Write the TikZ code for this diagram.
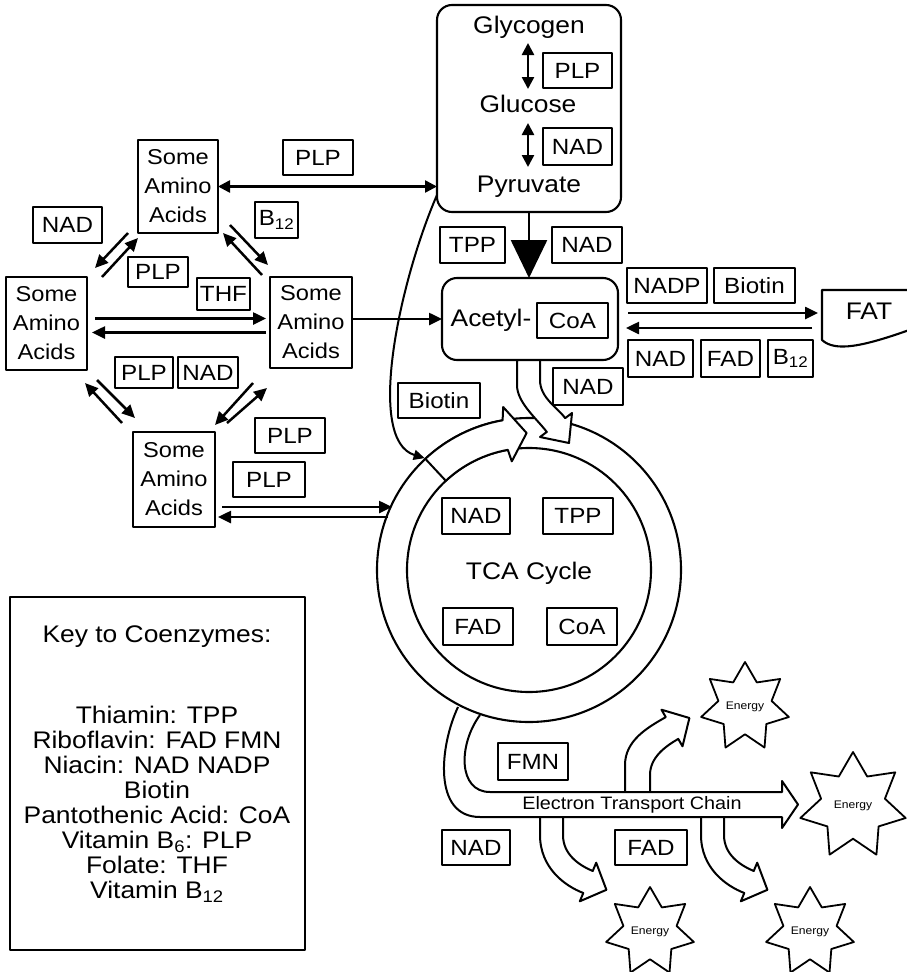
\documentclass[tikz,border=0pt]{standalone}
\usepackage{fontspec}
\setmainfont{Liberation Sans}[FakeStretch=1.1]
\usetikzlibrary{arrows.meta,shapes.geometric,calc}
\newcommand\keyfont{\fontsize{24}{25}\selectfont\lineskiplimit=-30pt\relax}
\begin{document}
\begin{tikzpicture}[x=1pt,y=-1pt,line join=round,
 every node/.style={inner sep=0pt, outer sep=0pt},
 cz/.style={draw, line width=2.1, minimum height=35, font=\fontsize{22}{26}\selectfont},
 aa/.style={draw, line width=2.1, align=center, font=\fontsize{21.5}{29}\selectfont},
 lbl/.style={font=\fontsize{24}{28}\selectfont},
 arr/.style={line width=2.5, -{Triangle[length=13pt,width=12pt]}},
 darr/.style={line width=2.5, {Triangle[length=12pt,width=12pt]}-{Triangle[length=12pt,width=12pt]}},
 band/.style={draw, line width=2, fill=white},
 energy/.style={star, star points=7, star point ratio=1.65, draw, line width=1.8, font=\fontsize{11}{12}\selectfont}
]
\fill[white] (0,0) rectangle (906,972);
\useasboundingbox (0,0) rectangle (906,972);

% --- branches of the electron transport chain (drawn first) ---
\path[band] (625,792) -- (625,765) .. controls (625,740) and (648.4,727.1) .. (665.75,717.1) -- (661.5,709.7) -- (689.4,718) -- (682.5,746.3) -- (678.25,738.9) .. controls (666,746) and (650,757) .. (650,775) -- (650,792);
\path[band] (540,817) -- (540,835) .. controls (540,868) and (565,886) .. (583.3,893) -- (579.8,901.3) -- (606.4,889.8) -- (596.2,862.7) -- (592.7,871) .. controls (579.8,865.5) and (563,855) .. (563,835) -- (563,817);
\path[band] (701,817) -- (701,835) .. controls (701,868) and (726,886) .. (744.3,893) -- (740.8,901.3) -- (767.4,889.8) -- (757.2,862.7) -- (753.7,871) .. controls (740.8,865.5) and (724,855) .. (724,835) -- (724,817);
% --- exit band ---
\path[band] (458,707) .. controls (440,745) and (432,817) .. (480,817) -- (782,817) -- (782,828) -- (798,804.5) -- (782,781) -- (782,792) -- (490,792) .. controls (458,792) and (458,745) .. (480,715);
\node[font=\fontsize{18}{20}\selectfont] (etc) at (632,805) {Electron Transport Chain};

% --- TCA ring ---
\node[circle, draw, line width=2.1, minimum size=304] (ring) at (529,570) {};
\node[circle, draw, line width=2.1, minimum size=244] (ringin) at (529,570) {};
\path[band] ($(ring.center)+(-133:152)$) arc[start angle=-133, end angle=-100, radius=152] -- ($(ring.center)+(-99:165)$) -- ($(ring.center)+(-91:137)$) -- ($(ring.center)+(-99:110)$) -- ($(ring.center)+(-100:122)$) arc[start angle=-100, end angle=-133, radius=122] -- cycle;

% --- glycogen box ---
\node[draw, line width=2.1, rounded corners=15, minimum width=184, minimum height=207] (gbox) at (529,108.5) {};
\node[lbl] (gly) at (529,27) {Glycogen};
\node[lbl] (glu) at (528,104) {Glucose};
\node[lbl] (pyr) at (529,187) {Pyruvate};
\node[cz, minimum width=69] (plpg) at (577.5,70.5) {PLP};
\node[cz, minimum width=69, minimum height=37] (nadg) at (577.5,146.5) {NAD};
\draw[darr] ($(gly.center)+(-1,16)$) -- ($(glu.center)+(0,-15)$);
\draw[darr] ($(glu.center)+(0,19)$) -- ($(pyr.center)+(-1,-20)$);

% --- acetyl-CoA ---
\node[draw, line width=2.1, rounded corners=15, minimum width=176, minimum height=82] (acetyl) at (530,319) {};
\node[lbl] (acet) at (491,320) {Acetyl-};
\node[cz, minimum width=71] (coaa) at (572.5,320.5) {CoA};
\draw[line width=2.6, -{Triangle[length=38pt,width=36pt]}] (gbox.south) -- (gbox.south |- acetyl.north);
\node[cz, minimum width=65, minimum height=36] (tppa) at (472.5,245) {TPP};
\node[cz, minimum width=70, minimum height=36] (nada) at (587,245) {NAD};
\path[band] (517,360) -- (517,385) .. controls (517,402) and (535,417) .. (546.8,431.9) -- (540,437) -- (569,443) -- (572,413) -- (565.2,418.1) .. controls (558,408) and (540,398) .. (540,380) -- (540,360) -- cycle;

% --- fat ---
\node[lbl, minimum width=94, minimum height=50] (fat) at (869,311) {FAT};
\draw[line width=2.1] (912,290) -- (822,290) -- (822,340) .. controls (835,352) and (862,347) .. (912,329);
\node[cz, minimum width=80] (nadp) at (667,285.5) {NADP};
\node[cz, minimum width=81] (biof) at (754.5,285.5) {Biotin};
\node[cz, minimum width=65, minimum height=37] (nadf) at (660.5,358.5) {NAD};
\node[cz, minimum width=59, minimum height=37] (fadf) at (730.5,358.5) {FAD};
\node[cz, minimum width=45, minimum height=37] (b12f) at (790.5,358.5) {B\textsubscript{12}};
\draw[arr] ($(acetyl.east)+(10,-6)$) -- ($(acetyl.east -| fat.west)+(-4,-6)$);
\draw[arr] ($(acetyl.east -| fat.west)+(-10,9)$) -- ($(acetyl.east)+(8,9)$);

% --- amino acids ---
\node[aa, minimum width=80, minimum height=93] (a1) at (178,186.5) {Some\\Amino\\Acids};
\node[aa, minimum width=81, minimum height=93] (a2) at (46.5,323.5) {Some\\Amino\\Acids};
\node[aa, minimum width=82, minimum height=91] (a3) at (311,322.5) {Some\\Amino\\Acids};
\node[aa, minimum width=82, minimum height=95] (a4) at (174,479.5) {Some\\Amino\\Acids};
\node[cz, minimum width=70] (plpt) at (318,157.5) {PLP};
\node[cz, minimum width=69, minimum height=36] (nadl) at (67.5,225) {NAD};
\node[cz, minimum width=43, minimum height=36] (b12m) at (276.5,220) {B\textsubscript{12}};
\node[cz, minimum width=60, minimum height=30] (plpm) at (158,272) {PLP};
\node[cz, minimum width=53, minimum height=32] (thf) at (223.5,294) {THF};
\node[cz, minimum width=58, minimum height=31] (plpb) at (144,372.5) {PLP};
\node[cz, minimum width=60, minimum height=31] (nadb) at (208,372.5) {NAD};
\node[cz, minimum width=70] (plpr1) at (290,435.5) {PLP};
\node[cz, minimum width=72] (plpr2) at (269,479.5) {PLP};

\draw[darr] (a1.east) -- (a1.east -| gbox.west);
\draw[arr] (a3.east |- acetyl.west) -- (acetyl.west);
\draw[arr] ($(a2.east)+(8,-5)$) -- ($(a3.west)+(-4,-4)$);
\draw[arr] ($(a3.west)+(-4,10)$) -- ($(a2.east)+(5,9)$);
\draw[arr] ($(a1.south west)+(-10,0)$) -- ($(a2.north east)+(8,-9)$);
\draw[arr] ($(a2.north east)+(15,0)$) -- ($(a1.south west)+(0,5)$);
\draw[arr] ($(a1.south east)+(12,-8)$) -- ($(a3.north west)+(-2,-12)$);
\draw[arr] ($(a3.north west)+(-8,-2)$) -- ($(a1.south east)+(5,0)$);
\draw[arr] ($(a4.north west)+(-11,-9)$) -- ($(a2.south east)+(-2,13)$);
\draw[arr] ($(a2.south east)+(10,10)$) -- ($(a4.north west)+(2,-14)$);
\draw[arr] ($(a4.north east)+(12,-9)$) -- ($(a3.south west)+(-3,20)$);
\draw[arr] ($(a3.south west)+(-17,15)$) -- ($(a4.north east)+(0,-7)$);
\draw[arr] ($(a4.east)+(7,27.5)$) -- ($(ring.center)+(-137,-63)$);
\draw[arr] ($(ring.center)+(-141,-53)$) -- ($(a4.east)+(3,37.5)$);

% --- biotin route ---
\node[cz, minimum width=82] (biop) at (439,400.5) {Biotin};
\node[cz, minimum width=70, minimum height=37] (nadt) at (588,386.5) {NAD};
\draw[line width=2, -{Triangle[length=11pt,width=10pt]}] ($(gbox.south west)+(0,-17)$) .. controls (400,280) and (365,440) .. ($(ring.center)+(-133:153)$);

% --- inside TCA ---
\node[cz, minimum width=68, minimum height=36] (nadc) at (476,516) {NAD};
\node[cz, minimum width=70, minimum height=36] (tppc) at (578,516) {TPP};
\node[lbl] (tca) at (529,573) {TCA Cycle};
\node[cz, minimum width=70, minimum height=37] (fadc) at (478,626.5) {FAD};
\node[cz, minimum width=70, minimum height=37] (coac) at (582,626.5) {CoA};

% --- ETC labels ---
\node[cz, minimum width=70, minimum height=37] (fmn) at (533,761.5) {FMN};
\node[cz, minimum width=68] (nade) at (476,847.5) {NAD};
\node[cz, minimum width=72] (fade) at (651,847.5) {FAD};

% --- energy stars ---
\node[energy, minimum size=90] (e1) at (745,707) {Energy};
\node[energy, minimum size=108] (e2) at (853,806) {Energy};
\node[energy, minimum size=90] (e3) at (650,932) {Energy};
\node[energy, minimum size=90] (e4) at (810,932) {Energy};

% --- key ---
\node[draw, line width=2.1, minimum width=295, minimum height=353] (key) at (157.5,773.5) {};
\node[font=\keyfont] (keyt) at (157,637) {Key to Coenzymes:};
\node[align=center, font=\keyfont] (keyl) at (157,804.5) {Thiamin: TPP\\Riboflavin: FAD FMN\\Niacin: NAD NADP\\Biotin\\Pantothenic Acid: CoA\\Vitamin B\textsubscript{6}: PLP\\Folate: THF\\Vitamin B\textsubscript{12}};
\end{tikzpicture}
\end{document}
